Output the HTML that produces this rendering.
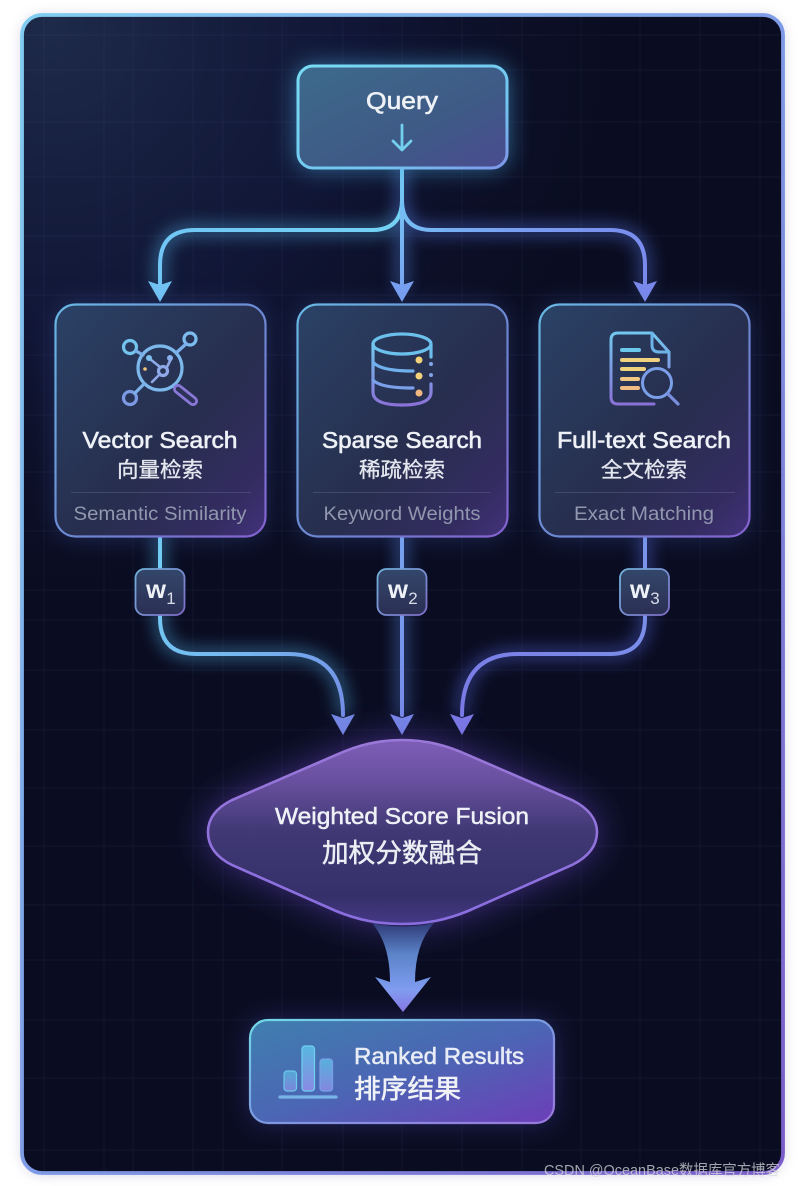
<!DOCTYPE html>
<html><head><meta charset="utf-8"><style>
html,body{margin:0;padding:0;background:#fff;width:802px;height:1186px;overflow:hidden}
svg{display:block}
text{font-family:"Liberation Sans","Noto Sans CJK SC",sans-serif;text-anchor:middle;fill:#eef1f6}
.en{font-size:23px;font-weight:500;stroke:#eef1f6;stroke-width:.6px}
.cn{font-size:21px;fill:#e4e7ee;stroke:#e4e7ee;stroke-width:.35px}
.sub{font-size:19px;fill:#9097ae}
.fl{fill:none;stroke-linecap:round;stroke-linejoin:round}
</style></head><body>
<svg width="802" height="1186" viewBox="0 0 802 1186" xmlns="http://www.w3.org/2000/svg">
<defs>
<linearGradient id="frameS" x1="0" y1="0" x2="1" y2="1"><stop offset="0" stop-color="#80cdf0"/><stop offset=".5" stop-color="#7f9be6"/><stop offset="1" stop-color="#7a5cc8"/></linearGradient>
<radialGradient id="bgTL" gradientUnits="userSpaceOnUse" cx="50" cy="25" r="620"><stop offset="0" stop-color="#1e2a4a"/><stop offset=".5" stop-color="#12183a" stop-opacity=".8"/><stop offset="1" stop-color="#0a0c20" stop-opacity="0"/></radialGradient>
<linearGradient id="nodeF" x1="0" y1="0" x2="1" y2="1"><stop offset="0" stop-color="#2a4266"/><stop offset=".55" stop-color="#272e4e"/><stop offset=".85" stop-color="#332c60"/><stop offset="1" stop-color="#43327c"/></linearGradient>
<linearGradient id="nodeS" x1="0" y1="0" x2="1" y2="1"><stop offset="0" stop-color="#68b8e4"/><stop offset=".6" stop-color="#6d82d0"/><stop offset="1" stop-color="#8561d0"/></linearGradient>
<linearGradient id="qF" x1="0" y1="0" x2="1" y2="1"><stop offset="0" stop-color="#3d6a8c"/><stop offset=".6" stop-color="#3e5a86"/><stop offset="1" stop-color="#4a4c90"/></linearGradient>
<linearGradient id="qS" x1="0" y1="0" x2="1" y2="1"><stop offset="0" stop-color="#78dcf4"/><stop offset=".7" stop-color="#72c4f0"/><stop offset="1" stop-color="#7f96ea"/></linearGradient>
<linearGradient id="rF" x1="0" y1="0" x2="1" y2="1"><stop offset="0" stop-color="#3f7fae"/><stop offset=".5" stop-color="#4b66b4"/><stop offset="1" stop-color="#6c3fb8"/></linearGradient>
<linearGradient id="rS" x1="0" y1="0" x2="1" y2="1"><stop offset="0" stop-color="#72dae8"/><stop offset=".5" stop-color="#7c9ae0"/><stop offset="1" stop-color="#9a78dc"/></linearGradient>
<linearGradient id="dF" x1="0" y1="0" x2="0" y2="1"><stop offset="0" stop-color="#7e5eb8"/><stop offset=".22" stop-color="#69509f"/><stop offset=".5" stop-color="#3f3874"/><stop offset=".85" stop-color="#35306a"/><stop offset="1" stop-color="#453886"/></linearGradient>
<linearGradient id="dS" x1="0" y1="0" x2="0" y2="1"><stop offset="0" stop-color="#9a78d8"/><stop offset="1" stop-color="#8a6ee0"/></linearGradient>
<linearGradient id="fatA" x1="0" y1="0" x2="0" y2="1"><stop offset="0" stop-color="#2f3a78"/><stop offset=".35" stop-color="#5b84c8"/><stop offset=".75" stop-color="#7f9cf0"/><stop offset="1" stop-color="#8a78e4"/></linearGradient>
<linearGradient id="icon1" x1="0" y1="0" x2="0" y2="1"><stop offset="0" stop-color="#72c8ee"/><stop offset="1" stop-color="#8a72d8"/></linearGradient>
<linearGradient id="l1" gradientUnits="userSpaceOnUse" x1="160" y1="540" x2="345" y2="730"><stop offset="0" stop-color="#72d0f4"/><stop offset=".5" stop-color="#74b8f0"/><stop offset="1" stop-color="#7488e4"/></linearGradient>
<linearGradient id="l2" gradientUnits="userSpaceOnUse" x1="0" y1="540" x2="0" y2="730"><stop offset="0" stop-color="#78a4f0"/><stop offset="1" stop-color="#7688e8"/></linearGradient>
<linearGradient id="l3" gradientUnits="userSpaceOnUse" x1="645" y1="540" x2="462" y2="730"><stop offset="0" stop-color="#7a96ec"/><stop offset="1" stop-color="#7a78e4"/></linearGradient>
<linearGradient id="t1" gradientUnits="userSpaceOnUse" x1="402" y1="170" x2="160" y2="300"><stop offset="0" stop-color="#74d4f4"/><stop offset="1" stop-color="#70c4f4"/></linearGradient>
<linearGradient id="t2" gradientUnits="userSpaceOnUse" x1="0" y1="170" x2="0" y2="300"><stop offset="0" stop-color="#74ccf4"/><stop offset="1" stop-color="#78a0f0"/></linearGradient>
<linearGradient id="t3" gradientUnits="userSpaceOnUse" x1="402" y1="170" x2="645" y2="300"><stop offset="0" stop-color="#74c4f4"/><stop offset=".5" stop-color="#7a9cf0"/><stop offset="1" stop-color="#7a88ec"/></linearGradient>
<linearGradient id="wF" x1="0" y1="0" x2="0" y2="1"><stop offset="0" stop-color="#33476a"/><stop offset="1" stop-color="#2b2f54"/></linearGradient>
<linearGradient id="wS" x1="0" y1="0" x2="1" y2="1"><stop offset="0" stop-color="#72b4dc"/><stop offset="1" stop-color="#7f6cc8"/></linearGradient>
<linearGradient id="bar" x1="0" y1="0" x2="0" y2="1"><stop offset="0" stop-color="#58b8e0"/><stop offset="1" stop-color="#8a8ae4"/></linearGradient>
<filter id="g10" x="-40%" y="-40%" width="180%" height="180%"><feGaussianBlur stdDeviation="12"/></filter>
<filter id="g20" x="-40%" y="-60%" width="180%" height="220%"><feGaussianBlur stdDeviation="18"/></filter>
<filter id="shad" x="-10%" y="-10%" width="120%" height="120%"><feGaussianBlur stdDeviation="6"/></filter>
<filter id="line" filterUnits="userSpaceOnUse" x="0" y="0" width="802" height="1186"><feGaussianBlur stdDeviation="8"/></filter>
<clipPath id="fc"><rect x="22" y="15" width="761" height="1158" rx="20"/></clipPath>
<g id="grid" stroke="#8ea0d8" stroke-opacity=".06" stroke-width="1.2">
<path d="M44 15V1172M104 15V1172M133 15V1172M193 15V1172M223 15V1172M282 15V1172M343 15V1172M402 15V1172M462 15V1172M522 15V1172M581 15V1172M640 15V1172M700 15V1172M760 15V1172"/>
<path d="M22 35H783M22 70H783M22 122H783M22 177H783M22 236H783M22 295H783M22 355H783M22 415H783M22 472H783M22 531H783M22 590H783M22 620H783M22 670H783M22 730H783M22 788H783M22 846H783M22 905H783M22 960H783M22 1020H783M22 1078H783M22 1150H783"/>
</g>
</defs>

<rect x="0" y="0" width="802" height="1186" fill="#fff"/>
<rect x="21" y="15" width="763" height="1160" rx="22" fill="#9a9ac8" opacity=".4" filter="url(#shad)"/>
<rect x="22" y="15" width="761" height="1158" rx="20" fill="#0a0d22"/>
<g clip-path="url(#fc)">
<rect x="22" y="15" width="761" height="1158" fill="url(#bgTL)"/>
<use href="#grid"/>
</g>
<rect x="22" y="15" width="761" height="1158" rx="20" fill="none" stroke="url(#frameS)" stroke-width="3.800"/>

<!-- glow lines -->
<g class="fl" stroke-width="11" opacity=".5" filter="url(#line)">
<path stroke="#54b4ea" d="M402 170V200Q402 230 372 230H195Q160 230 160 265V285"/>
<path stroke="#5a90ea" d="M402 170V285"/>
<path stroke="#5a7cea" d="M402 200Q402 230 432 230H610Q645 230 645 265V285"/>
<path stroke="#54b4ea" d="M160 538V618Q160 654 196 654H288Q343 654 343 712"/>
<path stroke="#5a8cea" d="M402 538V712"/>
<path stroke="#5a6cea" d="M645 538V618Q645 654 610 654H518Q462 654 462 712"/>
</g>

<!-- query to 3 -->
<g class="fl" stroke-width="4">
<path stroke="url(#t1)" d="M402 170V200Q402 230 372 230H195Q160 230 160 265V285"/>
<path stroke="url(#t3)" d="M402 200Q402 230 432 230H610Q645 230 645 265V285"/>
<path stroke="url(#t2)" d="M402 170V285"/>
</g>
<path d="M148 281L160 285L172 281L160 302Z" fill="#72c4f4"/>
<path d="M390 281L402 285L414 281L402 302Z" fill="#78a0f0"/>
<path d="M633 281L645 285L657 281L645 302Z" fill="#7a88ec"/>

<!-- lower lines -->
<g class="fl" stroke-width="4">
<path stroke="url(#l1)" d="M160 538V618Q160 654 196 654H288Q343 654 343 715"/>
<path stroke="url(#l2)" d="M402 538V715"/>
<path stroke="url(#l3)" d="M645 538V618Q645 654 610 654H518Q462 654 462 715"/>
</g>
<path d="M331 714L343 718L355 714L343 735Z" fill="#7488e4"/>
<path d="M390 714L402 718L414 714L402 735Z" fill="#7688e8"/>
<path d="M450 714L462 718L474 714L462 735Z" fill="#7a78e4"/>

<!-- Query node -->
<rect x="297" y="65" width="211" height="104" rx="15" fill="#4aa8e0" opacity=".6" filter="url(#g10)"/>
<rect x="298" y="66" width="209" height="102" rx="15" fill="url(#qF)" stroke="url(#qS)" stroke-width="3"/>
<text x="402" y="109" style="font-size:24px;font-weight:500;stroke:#eef1f6;stroke-width:.6px" textLength="72" lengthAdjust="spacingAndGlyphs">Query</text>
<path class="fl" d="M402 125V150M393 141L402 150L411 141" stroke="#72cfee" stroke-width="2.800"/>

<!-- Cards -->
<g>
<rect x="55" y="304" width="211" height="234" rx="20" fill="#5a7ce0" opacity=".25" filter="url(#g10)"/>
<rect x="55.500" y="304.500" width="210" height="232" rx="20" fill="url(#nodeF)" stroke="url(#nodeS)" stroke-width="2.200"/>
<rect x="297" y="304" width="211" height="234" rx="20" fill="#5a7ce0" opacity=".25" filter="url(#g10)"/>
<rect x="297.500" y="304.500" width="210" height="232" rx="20" fill="url(#nodeF)" stroke="url(#nodeS)" stroke-width="2.200"/>
<rect x="539" y="304" width="211" height="234" rx="20" fill="#5a7ce0" opacity=".25" filter="url(#g10)"/>
<rect x="539.500" y="304.500" width="210" height="232" rx="20" fill="url(#nodeF)" stroke="url(#nodeS)" stroke-width="2.200"/>
</g>

<!-- icon 1 -->
<g class="fl" stroke-width="3.200">
<circle cx="160" cy="368" r="22" stroke="#7cb8ec"/>
<circle cx="130" cy="347" r="6.500" stroke="#72c4ee"/>
<circle cx="190" cy="339" r="6" stroke="#7cbcee"/>
<circle cx="130" cy="398" r="6.500" stroke="#7c9ae4"/>
<path d="M136 351L143 355M186 344L176 353M135 393L144 384" stroke="#7cb0ea"/>
<path d="M178 389L193 401" stroke="#8a78d8" stroke-width="10"/>
<path d="M178 389L193 401" stroke="#2d3358" stroke-width="4.500"/>
<circle cx="163" cy="371" r="4.500" stroke="#8ea8e8"/>
<path d="M150 359L160 367M167 367L171 359M159 375L152 382" stroke="#8ea8e8" stroke-width="2.600"/>
<circle cx="149" cy="358" r="3" fill="#7cc0ee" stroke="none"/>
<circle cx="170" cy="358" r="3" fill="#8ab0ee" stroke="none"/>
<circle cx="145" cy="369" r="1.800" fill="#f0c878" stroke="none"/>
</g>

<!-- icon 2 -->
<g class="fl" stroke-width="3.200">
<ellipse cx="402" cy="344" rx="29" ry="10" stroke="#6cc0ec"/>
<path d="M373 344V392Q373 405 402 405Q431 405 431 392V384" stroke="url(#icon1)"/>
<path d="M431 344V357" stroke="#6cbcec"/>
<path d="M373 362Q380 371 413 371" stroke="#70b0ec"/>
<path d="M373 380Q380 388 413 388" stroke="#7aa0ea"/>
<circle cx="419" cy="360" r="3.500" fill="#f4d27a" stroke="none"/>
<circle cx="419" cy="376" r="3.500" fill="#f4d27a" stroke="none"/>
<circle cx="419" cy="393" r="3.500" fill="#f0b880" stroke="none"/>
<circle cx="431" cy="364" r="2" fill="#84a4e8" stroke="none"/>
<circle cx="431" cy="375" r="2" fill="#84a0e8" stroke="none"/>
</g>

<!-- icon 3 -->
<g class="fl" stroke-width="3">
<path d="M669 367V352L652 333H618Q611 333 611 340V397Q611 404 618 404H654" stroke="url(#icon1)"/>
<path d="M652 333V345Q652 352 659 352H669" stroke="#6cb4e8"/>
<path d="M622 350H639" stroke="#6cc8ec" stroke-width="4"/>
<path d="M622 360H658" stroke="#f0d27e" stroke-width="4"/>
<path d="M622 369H644" stroke="#f0d27e" stroke-width="4"/>
<path d="M622 379H638" stroke="#f0c884" stroke-width="4"/>
<path d="M622 388H638" stroke="#f0bc84" stroke-width="4"/>
<circle cx="657" cy="383" r="14.500" stroke="#7a9ee8"/>
<path d="M668 394L678 404" stroke="#7a8ee0" stroke-width="3.200"/>
</g>

<!-- card text -->
<text class="en" x="160" y="448" textLength="155" lengthAdjust="spacingAndGlyphs">Vector Search</text>
<text class="cn" x="160" y="477" textLength="86" lengthAdjust="spacingAndGlyphs">向量检索</text>
<path d="M71 492.500H251" stroke="#7f86b0" stroke-opacity=".3"/>
<text class="sub" x="160" y="520" textLength="173" lengthAdjust="spacingAndGlyphs">Semantic Similarity</text>

<text class="en" x="402" y="448" textLength="160" lengthAdjust="spacingAndGlyphs">Sparse Search</text>
<text class="cn" x="402" y="477" textLength="86" lengthAdjust="spacingAndGlyphs">稀疏检索</text>
<path d="M313 492.500H490" stroke="#7f86b0" stroke-opacity=".3"/>
<text class="sub" x="402" y="520" textLength="157" lengthAdjust="spacingAndGlyphs">Keyword Weights</text>

<text class="en" x="644" y="448" textLength="174" lengthAdjust="spacingAndGlyphs">Full-text Search</text>
<text class="cn" x="644" y="477" textLength="86" lengthAdjust="spacingAndGlyphs">全文检索</text>
<path d="M555 492.500H735" stroke="#7f86b0" stroke-opacity=".3"/>
<text class="sub" x="644" y="520" textLength="140" lengthAdjust="spacingAndGlyphs">Exact Matching</text>

<!-- weights -->
<g>
<rect x="135.500" y="569" width="49" height="46" rx="9" fill="url(#wF)" stroke="url(#wS)" stroke-width="1.800"/>
<rect x="377.500" y="569" width="49" height="46" rx="9" fill="url(#wF)" stroke="url(#wS)" stroke-width="1.800"/>
<rect x="620" y="569" width="49" height="46" rx="9" fill="url(#wF)" stroke="url(#wS)" stroke-width="1.800"/>
</g>
<text x="156" y="598" style="font-size:26px;font-weight:700" textLength="20" lengthAdjust="spacingAndGlyphs">w</text><text x="171" y="604" style="font-size:17px;fill:#d8dce8">1</text>
<text x="398" y="598" style="font-size:26px;font-weight:700" textLength="20" lengthAdjust="spacingAndGlyphs">w</text><text x="413" y="604" style="font-size:17px;fill:#d8dce8">2</text>
<text x="640" y="598" style="font-size:26px;font-weight:700" textLength="20" lengthAdjust="spacingAndGlyphs">w</text><text x="655" y="604" style="font-size:17px;fill:#d8dce8">3</text>

<!-- diamond -->
<path d="M402 740C426 740 446 745 468 755L572 800C588 808 597 819 597 832C597 846 588 857 572 865L468 911C446 920 426 924 402 924C378 924 358 920 336 911L232 865C216 857 208 846 208 832C208 819 216 808 232 800L336 755C358 745 378 740 402 740Z" fill="#6a48c8" opacity=".6" filter="url(#g20)"/>
<path d="M402 740C426 740 446 745 468 755L572 800C588 808 597 819 597 832C597 846 588 857 572 865L468 911C446 920 426 924 402 924C378 924 358 920 336 911L232 865C216 857 208 846 208 832C208 819 216 808 232 800L336 755C358 745 378 740 402 740Z" fill="url(#dF)" stroke="url(#dS)" stroke-width="2.600"/>
<text x="402" y="824" style="font-size:23px;font-weight:500;stroke:#eef1f6;stroke-width:.5px" textLength="254" lengthAdjust="spacingAndGlyphs">Weighted Score Fusion</text>
<text x="402" y="862" style="font-size:26px;fill:#eceef4;stroke:#eceef4;stroke-width:.5px" textLength="160" lengthAdjust="spacingAndGlyphs">加权分数融合</text>

<!-- fat arrow -->
<path d="M372 923Q390 944 390 982L375 977L403 1012L431 977L415 982Q415 944 434 923Q402 930 372 923Z" fill="url(#fatA)"/>

<!-- result -->
<rect x="249" y="1019" width="306" height="105" rx="18" fill="#5a58d0" opacity=".3" filter="url(#g10)"/>
<rect x="250" y="1020" width="304" height="103" rx="18" fill="url(#rF)" stroke="url(#rS)" stroke-width="2.200"/>
<rect x="284" y="1071" width="12.500" height="20" rx="3" fill="url(#bar)" fill-opacity=".8" stroke="#6cc8ec" stroke-width="1.200"/>
<rect x="302" y="1046" width="12.500" height="45" rx="3" fill="url(#bar)" stroke="#70d0ee" stroke-width="1.200"/>
<rect x="320" y="1059" width="12.500" height="32" rx="3" fill="url(#bar)" fill-opacity=".9" stroke="#7aa0e8" stroke-width="1.200"/>
<path d="M280 1097H336" stroke="#78b4e8" stroke-width="3.200" stroke-linecap="round"/>
<text x="439" y="1064" style="font-size:23px;font-weight:500;fill:#e8ecf6;stroke:#e8ecf6;stroke-width:.5px" textLength="170" lengthAdjust="spacingAndGlyphs">Ranked Results</text>
<text x="407.500" y="1098" style="font-size:26px;fill:#f0f2f8;stroke:#f0f2f8;stroke-width:.6px" textLength="107" lengthAdjust="spacingAndGlyphs">排序结果</text>

<!-- watermark -->
<text x="662" y="1175" style="font-size:15px;fill:#d8d8de;fill-opacity:.75" textLength="236" lengthAdjust="spacingAndGlyphs">CSDN @OceanBase数据库官方博客</text>
</svg>
</body></html>
